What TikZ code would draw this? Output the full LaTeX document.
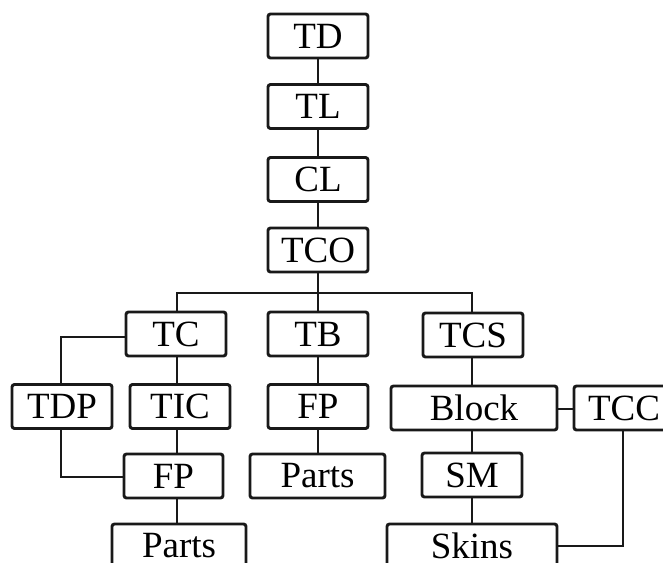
\documentclass[tikz,border=0pt]{standalone}
\usepackage{fontspec}
\setmainfont{Liberation Serif}
\begin{document}
\begin{tikzpicture}[x=1pt,y=-1pt,
  box/.style={draw=black!90, line width=2.9pt, rounded corners=2.5pt, fill=white,
    inner sep=0pt, minimum width=#1, minimum height=44pt,
    font=\fontsize{37}{37}\selectfont},
  box/.default=100pt,
  link/.style={draw=black!90, line width=2.9pt}]
\useasboundingbox (0,0) rectangle (663,562);
\clip (0,0) rectangle (663,562);
% top chain
\node[box] (TD)  at (318,36)  {TD};
\node[box] (TL)  at (318,106.5) {TL};
\node[box] (CL)  at (318,179.5) {CL};
\node[box] (TCO) at (318,250) {TCO};
% second level
\node[box] (TC)  at (176,334) {TC};
\node[box] (TB)  at (318,334) {TB};
\node[box] (TCS) at (473,335) {TCS};
% third level
\node[box] (TDP) at (62,406.5)  {TDP};
\node[box] (TIC) at (180,406.5) {TIC};
\node[box] (FPm) at (318,406.5) {FP};
\node[box=166pt] (Block) at (474,408) {Block};
\node[box] (TCC) at (624,408) {TCC};
% fourth level
\node[box=99pt] (FPl) at (173.5,476) {FP};
\node[box=135pt] (Partsm) at (317.5,476) {Parts};
\node[box] (SM) at (472,475) {SM};
% fifth level
\node[box=134pt] (Partsl) at (179,546) {\raisebox{1pt}{Parts}};
\node[box=170pt] (Skins) at (472,546) {\raisebox{1pt}{Skins}};
% coordinates
\coordinate (bar) at (318,293);
\coordinate (barL) at (177,293);
\coordinate (barR) at (472,293);
\coordinate (lx) at (177,0);
\coordinate (dx) at (61,0);
% connectors top chain
\draw[link] (TD.south) -- (TL.north);
\draw[link] (TL.south) -- (CL.north);
\draw[link] (CL.south) -- (TCO.north);
\draw[link] (TCO.south) -- (bar);
\draw[link] (barL |- TC.north) -- (barL) -- (barR) -- (barR |- TCS.north);
\draw[link] (bar) -- (TB.north);
% left branch
\draw[link] (TC.south -| lx) -- (TIC.north -| lx);
\draw[link] (TIC.south -| lx) -- (FPl.north -| lx);
\draw[link] (FPl.south -| lx) -- (Partsl.north -| lx);
\draw[link] ([yshift=-3pt]TC.west) -| (TDP.north -| dx);
\draw[link] (TDP.south -| dx) |- ([yshift=-1pt]FPl.west);
% middle branch
\draw[link] (TB.south) -- (FPm.north);
\draw[link] (FPm.south) -- (FPm.south |- Partsm.north);
% right branch
\draw[link] (TCS.south -| barR) -- (Block.north -| barR);
\draw[link] (Block.south -| barR) -- (SM.north -| barR);
\draw[link] (SM.south -| barR) -- (Skins.north -| barR);
\draw[link] ([yshift=-1pt]Block.east) -- ([yshift=-1pt]TCC.west);
\draw[link] ([xshift=-1pt]TCC.south) |- (Skins.east);
\end{tikzpicture}
\end{document}
